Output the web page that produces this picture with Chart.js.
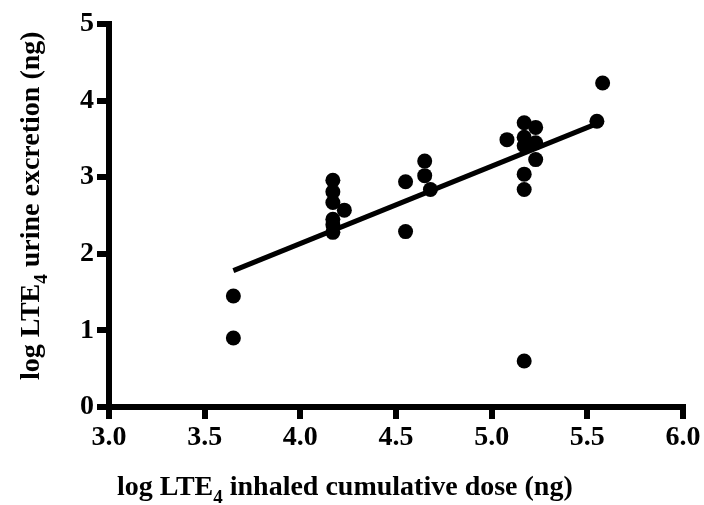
<!DOCTYPE html>
<html lang="en">
<head>
    <meta charset="UTF-8">
    <script src="https://cdn.jsdelivr.net/npm/chart.js@4.4.0/dist/chart.umd.min.js"></script>
    <title>LTE4 dose vs urine excretion</title>
    <style>
        html, body { margin: 0; padding: 0; background: #fff; }
        #wrap { width: 704px; height: 505px; }
    </style>
</head>
<body>
    <div id="wrap"><canvas id="chart"></canvas></div>

    <script>
        // inhaled dose (x) and urine excretion (y), both log10 ng
        const doseLog = [3.65, 3.65,
            4.17, 4.17, 4.17, 4.17, 4.17, 4.17, 4.23,
            4.55, 4.55, 4.65, 4.65, 4.68,
            5.08, 5.17, 5.17, 5.17, 5.17, 5.17, 5.17, 5.23, 5.23, 5.23,
            5.55, 5.58];
        const urineLog = [1.45, 0.90,
            2.96, 2.81, 2.67, 2.45, 2.38, 2.28, 2.57,
            2.94, 2.29, 3.21, 3.02, 2.84,
            3.49, 3.71, 3.52, 3.41, 3.04, 2.84, 0.60, 3.65, 3.45, 3.23,
            3.73, 4.23];

        // regression line end points
        const fitX = [3.65, 5.55];
        const fitY = [1.78, 3.70];

        const xTicks = [3.0, 3.5, 4.0, 4.5, 5.0, 5.5, 6.0];
        const yTicks = [0, 1, 2, 3, 4, 5];

        const FONT = "'Liberation Serif', 'Times New Roman', serif";

        // draws "log LTE<sub>4</sub> ..." starting at (x, y) along the current direction
        function drawSubTitle(ctx, x, y, before, sub, after) {
            ctx.font = "bold 28px " + FONT;
            ctx.fillText(before, x, y);
            x += ctx.measureText(before).width;
            ctx.font = "bold 19px " + FONT;
            ctx.fillText(sub, x, y + 8);
            x += ctx.measureText(sub).width;
            ctx.font = "bold 28px " + FONT;
            ctx.fillText(after, x, y);
        }

        const axisTitles = {
            id: "axisTitles",
            afterDraw(chart) {
                const ctx = chart.ctx;
                ctx.save();
                ctx.fillStyle = "#000";
                ctx.textBaseline = "alphabetic";
                ctx.textAlign = "left";
                drawSubTitle(ctx, 117, 495, "log LTE", "4", " inhaled cumulative dose (ng)");
                ctx.translate(39, 380);
                ctx.rotate(-Math.PI / 2);
                drawSubTitle(ctx, 0, 0, "log LTE", "4", " urine excretion (ng)");
                ctx.restore();
            }
        };

        const tickFont = { family: FONT, size: 28, weight: "bold" };

        new Chart(document.getElementById("chart"), {
            type: "scatter",
            data: {
                datasets: [{
                    data: doseLog.map((x, i) => ({ x: x, y: urineLog[i] })),
                    backgroundColor: "#000",
                    borderWidth: 0,
                    pointRadius: 7.5
                }, {
                    type: "line",
                    data: fitX.map((x, i) => ({ x: x, y: fitY[i] })),
                    borderColor: "#000",
                    borderWidth: 5,
                    pointRadius: 0,
                    fill: false
                }]
            },
            options: {
                responsive: true,
                maintainAspectRatio: false,
                animation: false,
                layout: { padding: { top: 24, right: 21, left: 0, bottom: 0 } },
                plugins: {
                    legend: { display: false },
                    tooltip: { enabled: false }
                },
                scales: {
                    x: {
                        type: "linear",
                        min: 3, max: 6,
                        afterBuildTicks: s => { s.ticks = xTicks.map(v => ({ value: v })); },
                        afterFit: s => { s.height = 98; },
                        border: { display: true, color: "#000", width: 6 },
                        grid: { drawOnChartArea: false, drawTicks: true, tickLength: 12, lineWidth: 6, color: "#000" },
                        ticks: {
                            color: "#000", font: tickFont, padding: 2, maxRotation: 0,
                            callback: v => v.toFixed(1)
                        }
                    },
                    y: {
                        type: "linear",
                        min: 0, max: 5,
                        afterBuildTicks: s => { s.ticks = yTicks.map(v => ({ value: v })); },
                        afterFit: s => { s.width = 109; },
                        border: { display: true, color: "#000", width: 6 },
                        grid: { drawOnChartArea: false, drawTicks: true, tickLength: 12, lineWidth: 6, color: "#000" },
                        ticks: { color: "#000", font: tickFont, padding: 3 }
                    }
                }
            },
            plugins: [axisTitles]
        });
    </script>
</body>
</html>
